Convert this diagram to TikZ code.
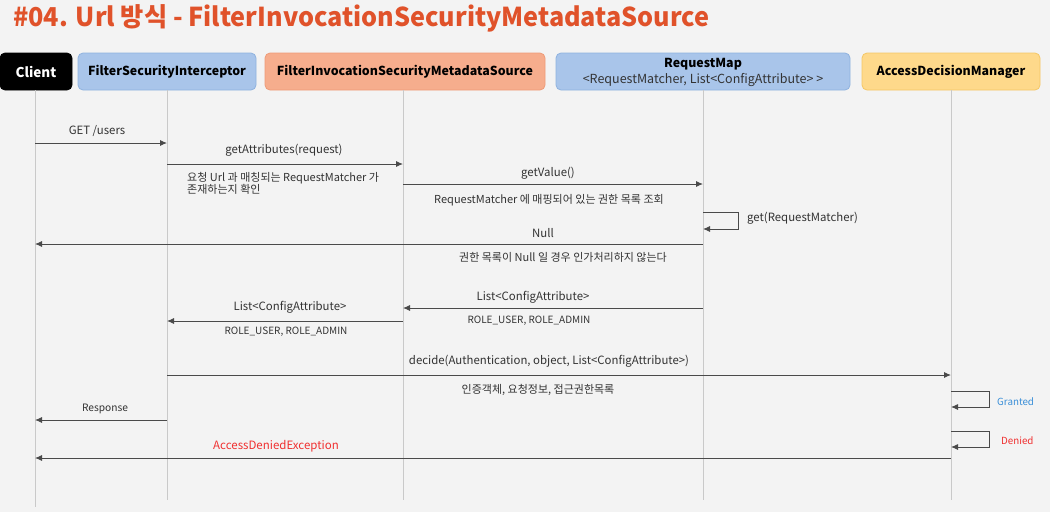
\documentclass[tikz,border=0pt]{standalone}
\usepackage{fontspec}
\setmainfont{Noto Sans CJK KR}
\usetikzlibrary{arrows.meta}
\definecolor{bg}{HTML}{F3F3F3}
\definecolor{titlec}{HTML}{E0522A}
\definecolor{bluef}{HTML}{A9C5EA}
\definecolor{blued}{HTML}{8FB2DF}
\definecolor{salf}{HTML}{F6AD8D}
\definecolor{sald}{HTML}{EE9B78}
\definecolor{yelf}{HTML}{FED98B}
\definecolor{yeld}{HTML}{F4C766}
\definecolor{linec}{HTML}{4A4A4A}
\definecolor{lifec}{HTML}{C9C9C9}
\definecolor{txt}{HTML}{333333}
\definecolor{grantc}{HTML}{3A8FD8}
\definecolor{deniedc}{HTML}{F03030}
\begin{document}
\begin{tikzpicture}[x=1pt,y=-1pt,
  box/.style={draw, rounded corners=5pt, line width=0.8pt, minimum height=37pt, align=center, font=\fontsize{12.4}{14}\selectfont\bfseries, text=black, inner sep=0pt},
  life/.style={draw=lifec, line width=0.9pt},
  msg/.style={draw=linec, line width=0.9pt, -{Latex[length=7pt,width=6pt]}},
  lbl/.style={font=\fontsize{11.4}{13}\selectfont, text=txt, inner sep=0pt},
  note/.style={font=\fontsize{11}{13}\selectfont, text=txt, inner sep=0pt, align=left},
  rolenote/.style={font=\fontsize{10}{12}\selectfont, text=txt, inner sep=0pt}]
\fill[bg] (0,0) rectangle (1050,512);
\useasboundingbox (0,0) rectangle (1050,512);
\node[anchor=west, text=titlec, inner sep=0pt, font=\fontsize{26}{30}\selectfont\bfseries, xscale=0.97, transform shape] (title) at (13,18) {\#04. Url 방식 - FilterInvocationSecurityMetadataSource};
% participant boxes
\node[box, fill=black, draw=black, text=white, minimum width=72pt, font=\fontsize{13.5}{15}\selectfont\bfseries] (client) at (36,71.5) {Client};
\node[box, fill=bluef, draw=blued, minimum width=178pt] (fsi) at (167,71.5) {FilterSecurityInterceptor};
\node[box, fill=salf, draw=sald, minimum width=280pt] (fisms) at (405,71.5) {FilterInvocationSecurityMetadataSource};
\node[box, fill=bluef, draw=blued, minimum width=294pt, minimum height=37pt, text height=0pt, text depth=0pt] (rm) at (703,71.5) {};
\node[inner sep=0pt, font=\fontsize{12.4}{14}\selectfont\bfseries] (rmt) at (703,64) {RequestMap};
\node[inner sep=0pt, font=\fontsize{12.5}{14}\selectfont, text=txt] (rms) at (703,80) {\textless RequestMatcher, List\textless ConfigAttribute\textgreater\ \textgreater};
\node[box, fill=yelf, draw=yeld, minimum width=178pt] (adm) at (951,71.5) {AccessDecisionManager};
% lifelines
\coordinate (clientL) at (35,0);
\coordinate (fsiL) at (167,0);
\coordinate (fismsL) at (403,0);
\coordinate (rmL) at (703,0);
\coordinate (admL) at (951,0);
\draw[life] (clientL |- client.south) -- (clientL |- 0,507);
\draw[life] (fsiL |- fsi.south) -- (fsiL |- 0,500);
\draw[life] (fismsL |- fisms.south) -- (fismsL |- 0,500);
\draw[life] (rmL |- rm.south) -- (rmL |- 0,500);
\draw[life] (admL |- adm.south) -- (admL |- 0,500);
% messages
\draw[msg] (clientL |- 0,143) -- (fsiL |- 0,143);
\node[lbl] (m1) at (97,131) {GET /users};
\draw[msg] (fsiL |- 0,164) -- (fismsL |- 0,164);
\node[lbl] (m2) at (284,150) {getAttributes(request)};
\node[note, anchor=north west] (n2) at (187,172) {요청 Url 과 매칭되는 RequestMatcher 가\\[-1pt]존재하는지 확인};
\draw[msg] (fismsL |- 0,184) -- (rmL |- 0,184);
\node[lbl] (m3) at (548,173) {getValue()};
\node[note] (n3) at (549,200) {RequestMatcher 에 매핑되어 있는 권한 목록 조회};
\draw[msg] (rmL |- 0,212) -- (738,212) -- (738,229) -- (rmL |- 0,229);
\node[lbl, anchor=west] (m4) at (747,218) {get(RequestMatcher)};
\draw[msg] (rmL |- 0,244) -- (clientL |- 0,244);
\node[lbl] (m5) at (543,233) {Null};
\node[note] (n5) at (563,257) {권한 목록이 Null 일 경우 인가처리하지 않는다};
\draw[msg] (rmL |- 0,308) -- (fismsL |- 0,308);
\node[lbl] (m6) at (533,297) {List<ConfigAttribute>};
\node[rolenote] (n6) at (529,321) {ROLE\_USER, ROLE\_ADMIN};
\draw[msg] (fismsL |- 0,321) -- (fsiL |- 0,321);
\node[lbl] (m7) at (290,307) {List<ConfigAttribute>};
\node[rolenote] (n7) at (286,332) {ROLE\_USER, ROLE\_ADMIN};
\draw[msg] (fsiL |- 0,375) -- (admL |- 0,375);
\node[lbl] (m8) at (549,361) {decide(Authentication, object, List<ConfigAttribute>)};
\node[note] (n8) at (538,390) {인증객체, 요청정보, 접근권한목록};
\draw[msg] (admL |- 0,391) -- (989,391) -- (989,407) -- (admL |- 0,407);
\node[lbl, anchor=west, text=grantc, font=\fontsize{9.8}{11}\selectfont] (g) at (997,402) {Granted};
\draw[msg] (fsiL |- 0,420) -- (clientL |- 0,420);
\node[lbl, font=\fontsize{10.2}{11}\selectfont] (m10) at (105,409) {Response};
\draw[msg] (admL |- 0,431) -- (989,431) -- (989,447) -- (admL |- 0,447);
\node[lbl, anchor=west, text=deniedc, font=\fontsize{9.8}{11}\selectfont] (d) at (1001,441) {Denied};
\draw[msg] (admL |- 0,458) -- (clientL |- 0,458);
\node[lbl, text=deniedc, font=\fontsize{11.5}{13}\selectfont] (m12) at (276,446) {AccessDeniedException};
\end{tikzpicture}
\end{document}
